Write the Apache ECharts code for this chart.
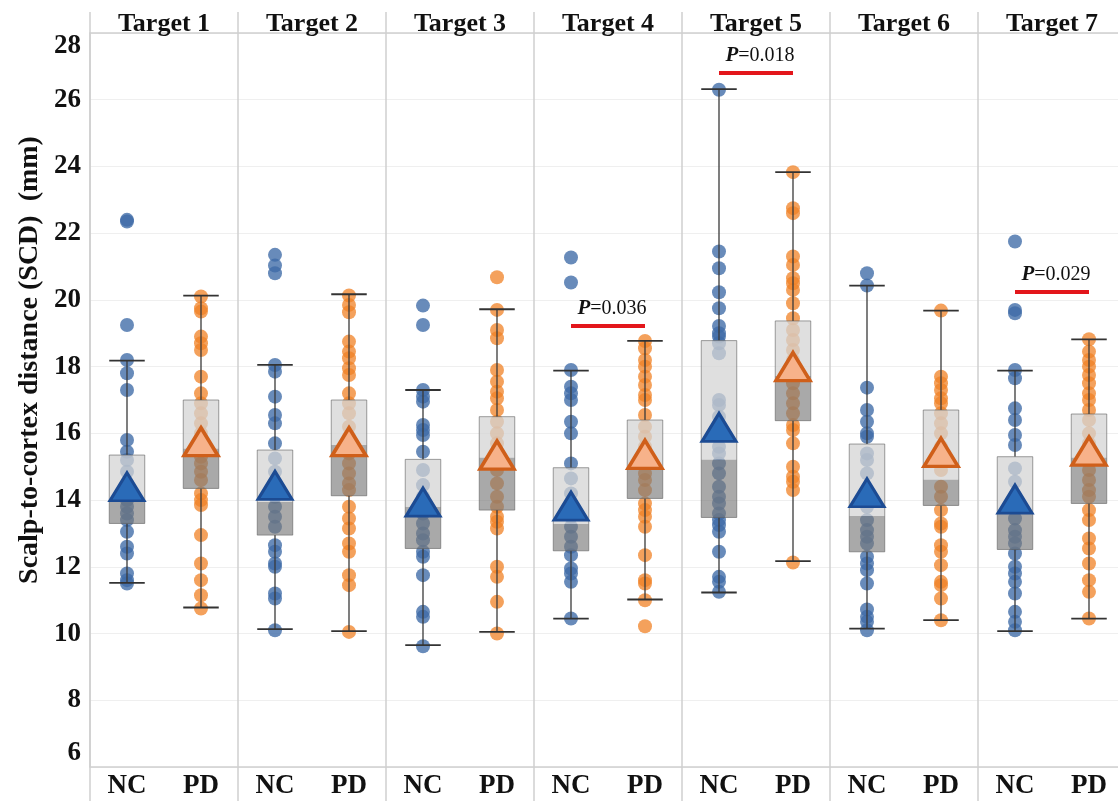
<!DOCTYPE html>
<html>
<head>
<meta charset="utf-8">
<script src="https://cdn.jsdelivr.net/npm/echarts@6/dist/echarts.min.js"></script>
<style>
  html, body { margin: 0; padding: 0; overflow: hidden; background: #fff; }
  #chart { width: 1126px; height: 801px; }
</style>
</head>
<body>
<div id="chart"></div>
<script>
// Scalp-to-cortex distance per stimulation target, NC vs PD
const targets = ['Target 1', 'Target 2', 'Target 3', 'Target 4', 'Target 5', 'Target 6', 'Target 7'];
const groups = ['NC', 'PD'];
const yMin = 6, yMax = 28, yStep = 2;
const yTitle = 'Scalp-to-cortex distance (SCD)  (mm)';

// individual subjects (mm)
const ncPoints = [
  [22.4, 22.35, 19.25, 18.2, 17.8, 17.3, 15.8, 15.45, 15.2, 14.85, 14.5, 14.2, 14.0, 13.8, 13.6, 13.4, 13.05, 12.6, 12.4, 11.8, 11.6, 11.5],
  [21.35, 21.03, 20.8, 18.05, 17.85, 17.1, 16.55, 16.3, 15.7, 15.25, 14.85, 14.4, 14.1, 13.8, 13.5, 13.2, 12.65, 12.45, 12.1, 12.0, 11.2, 11.05, 10.1],
  [19.83, 19.25, 17.3, 17.1, 16.95, 16.25, 16.1, 15.95, 15.45, 14.9, 14.45, 14.1, 13.8, 13.6, 13.3, 13.0, 12.8, 12.45, 12.3, 11.75, 10.65, 10.5, 9.62],
  [21.27, 20.52, 17.9, 17.4, 17.2, 17.0, 16.35, 16.0, 15.1, 14.65, 14.2, 13.9, 13.5, 13.2, 12.9, 12.6, 12.35, 11.95, 11.8, 11.55, 10.45],
  [26.3, 21.45, 20.95, 20.23, 19.75, 19.22, 19.0, 18.9, 18.7, 18.4, 17.0, 16.85, 16.5, 15.6, 15.4, 15.1, 14.8, 14.4, 14.1, 13.9, 13.6, 13.4, 13.25, 13.05, 12.45, 11.7, 11.55, 11.25],
  [20.8, 20.43, 17.37, 16.7, 16.35, 16.0, 15.9, 15.4, 15.2, 14.8, 14.2, 13.8, 13.4, 13.1, 12.9, 12.7, 12.3, 12.1, 11.9, 11.5, 10.72, 10.5, 10.35, 10.1],
  [21.75, 19.7, 19.6, 17.9, 17.65, 16.75, 16.4, 15.95, 15.65, 14.95, 14.55, 14.1, 13.45, 13.1, 12.9, 12.7, 12.4, 12.0, 11.8, 11.55, 11.2, 10.65, 10.35, 10.1]
];
const pdPoints = [
  [20.1, 19.75, 19.65, 18.9, 18.7, 18.5, 17.7, 17.2, 16.9, 16.6, 16.3, 16.0, 15.6, 15.3, 15.1, 14.85, 14.6, 14.2, 14.0, 13.85, 12.95, 12.1, 11.6, 11.15, 10.75],
  [20.13, 19.85, 19.63, 18.75, 18.45, 18.25, 17.95, 17.75, 17.2, 16.9, 16.6, 16.2, 15.9, 15.4, 15.1, 14.8, 14.5, 14.3, 13.8, 13.45, 13.15, 12.7, 12.45, 11.75, 11.45, 10.05],
  [20.68, 19.7, 19.1, 18.85, 17.9, 17.55, 17.25, 17.05, 16.7, 16.35, 16.0, 15.7, 15.4, 15.1, 14.9, 14.5, 14.1, 13.8, 13.5, 13.35, 13.15, 12.0, 11.7, 10.95, 10.0],
  [18.77, 18.55, 18.2, 18.0, 17.7, 17.45, 17.15, 17.0, 16.55, 16.2, 15.9, 15.6, 15.3, 14.8, 14.6, 14.3, 13.9, 13.7, 13.5, 13.2, 12.35, 11.6, 11.5, 11.0, 10.22],
  [23.83, 22.75, 22.6, 21.3, 21.05, 20.65, 20.5, 20.3, 19.9, 19.45, 19.1, 18.8, 18.5, 18.2, 17.5, 17.2, 16.9, 16.6, 16.25, 16.1, 15.7, 15.0, 14.7, 14.55, 14.3, 12.13],
  [19.68, 17.7, 17.5, 17.3, 17.05, 16.9, 16.6, 16.3, 16.0, 15.6, 15.2, 14.9, 14.4, 14.1, 13.7, 13.3, 13.2, 12.65, 12.45, 12.05, 11.55, 11.45, 11.05, 10.4],
  [18.82, 18.45, 18.2, 18.0, 17.75, 17.5, 17.2, 17.0, 16.7, 16.4, 16.0, 15.7, 15.3, 14.9, 14.6, 14.3, 14.1, 13.7, 13.4, 12.85, 12.55, 12.1, 11.6, 11.25, 10.45]
];

// box summaries: [lower whisker, Q1, median, Q3, upper whisker]
const ncBox = [
  [11.52, 13.3, 14.03, 15.35, 18.18],
  [10.13, 12.95, 13.95, 15.5, 18.05],
  [9.65, 12.55, 13.8, 15.22, 17.3],
  [10.45, 12.48, 13.28, 14.97, 17.88],
  [11.23, 13.48, 15.22, 18.78, 26.32],
  [10.15, 12.45, 13.52, 15.68, 20.43],
  [10.07, 12.52, 13.6, 15.3, 17.88]
];
const pdBox = [
  [10.78, 14.35, 15.55, 17.0, 20.13],
  [10.07, 14.13, 15.65, 17.0, 20.17],
  [10.05, 13.7, 15.28, 16.5, 19.72],
  [11.02, 14.05, 14.95, 16.4, 18.77],
  [12.17, 16.38, 17.72, 19.37, 23.83],
  [10.4, 13.84, 14.62, 16.7, 19.68],
  [10.45, 13.9, 15.28, 16.58, 18.82]
];
const ncMean = [14.4, 14.44, 13.94, 13.82, 16.18, 14.22, 14.03];
const pdMean = [15.75, 15.75, 15.35, 15.37, 18.0, 15.43, 15.47];

// significant NC vs PD differences
const sigTarget = [3, 4, 6];
const sigLevel = [19.22, 26.8, 20.24];
const sigP = ['0.036', '0.018', '0.029'];

const serif = '"Liberation Serif", "DejaVu Serif", serif';
const categories = [];
targets.forEach(() => groups.forEach(g => categories.push(g)));

const ncDots = [], pdDots = [];
ncPoints.forEach((arr, t) => arr.forEach(v => ncDots.push([2 * t, v])));
pdPoints.forEach((arr, t) => arr.forEach(v => pdDots.push([2 * t + 1, v])));

const boxData = [];
ncBox.forEach((b, t) => boxData.push([2 * t].concat(b)));
pdBox.forEach((b, t) => boxData.push([2 * t + 1].concat(b)));

// panel separators sit on the boundary before each NC column
const everyPanel = (index) => index % 2 === 0;

function renderBox(params, api) {
  const c = api.value(0);
  const lo = api.coord([c, api.value(1)]);
  const q1 = api.coord([c, api.value(2)]);
  const md = api.coord([c, api.value(3)]);
  const q3 = api.coord([c, api.value(4)]);
  const hi = api.coord([c, api.value(5)]);
  const w = api.size([1, 0])[0] * 0.48;
  const x = lo[0];
  const l = x - w / 2;
  const whisker = { stroke: '#3a3a3a', lineWidth: 1.3 };
  const cap = { stroke: '#333', lineWidth: 1.8 };
  return {
    type: 'group',
    children: [
      { type: 'line', shape: { x1: x, y1: hi[1], x2: x, y2: q3[1] }, style: whisker },
      { type: 'line', shape: { x1: x, y1: q1[1], x2: x, y2: lo[1] }, style: whisker },
      { type: 'rect', shape: { x: l, y: md[1], width: w, height: q1[1] - md[1] },
        style: { fill: 'rgba(120,120,120,0.64)' } },
      { type: 'rect', shape: { x: l, y: q3[1], width: w, height: md[1] - q3[1] },
        style: { fill: 'rgba(212,212,212,0.74)' } },
      { type: 'rect', shape: { x: l, y: q3[1], width: w, height: q1[1] - q3[1] },
        style: { fill: 'none', stroke: 'rgba(95,95,95,0.6)', lineWidth: 1 } },
      { type: 'line', shape: { x1: l, y1: hi[1], x2: l + w, y2: hi[1] }, style: cap },
      { type: 'line', shape: { x1: l, y1: lo[1], x2: l + w, y2: lo[1] }, style: cap }
    ]
  };
}

function renderSig(params, api) {
  const t = api.value(0);
  const yv = api.value(1);
  const a = api.coord([2 * t, yv]);
  const b = api.coord([2 * t + 1, yv]);
  return {
    type: 'group',
    children: [
      { type: 'line', shape: { x1: a[0], y1: a[1], x2: b[0], y2: b[1] },
        style: { stroke: '#e3161b', lineWidth: 4 } },
      { type: 'text', x: (a[0] + b[0]) / 2 + 4, y: a[1] - 7,
        style: {
          text: '{p|P}=' + sigP[params.dataIndex],
          align: 'center', verticalAlign: 'bottom',
          fontFamily: serif, fontSize: 20, fill: '#111',
          rich: { p: { fontFamily: serif, fontSize: 21, fontStyle: 'italic', fontWeight: 'bold', fill: '#111' } }
        } }
    ]
  };
}

const chart = echarts.init(document.getElementById('chart'), null, { renderer: 'canvas' });
chart.setOption({
  animation: false,
  backgroundColor: '#fff',
  grid: { left: 90, right: 0, top: 33, bottom: 34 },
  graphic: [{
    type: 'text', x: 30, y: 360, rotation: Math.PI / 2,
    style: {
      text: yTitle, align: 'center', verticalAlign: 'middle',
      fontFamily: serif, fontSize: 28, fontWeight: 'bold', fill: '#111'
    }
  }],
  xAxis: [{
    type: 'category', data: categories, position: 'bottom', boundaryGap: true,
    axisLine: { show: true, lineStyle: { color: '#cfcfcf', width: 1.5 } },
    axisTick: { show: true, interval: everyPanel, length: 34, lineStyle: { color: '#cfcfcf', width: 1.5 } },
    splitLine: { show: true, interval: everyPanel, lineStyle: { color: '#cfcfcf', width: 1.5 } },
    axisLabel: { interval: 0, margin: 6, fontFamily: serif, fontSize: 27, fontWeight: 'bold', color: '#111' }
  }, {
    type: 'category', data: targets, position: 'top', boundaryGap: true,
    axisLine: { show: true, lineStyle: { color: '#cfcfcf', width: 1.5 } },
    axisTick: { show: true, length: 21, lineStyle: { color: '#cfcfcf', width: 1.5 } },
    axisLabel: { interval: 0, margin: -4, fontFamily: serif, fontSize: 26, fontWeight: 'bold', color: '#111' }
  }],
  yAxis: {
    type: 'value', min: yMin, max: yMax, interval: yStep,
    axisLine: { show: true, lineStyle: { color: '#cfcfcf', width: 1.5 } },
    axisTick: { show: false },
    splitLine: { show: true, lineStyle: { color: '#efefef', width: 1 } },
    axisLabel: {
      margin: 9, fontFamily: serif, fontSize: 27, fontWeight: 'bold', color: '#111',
      verticalAlignMaxLabel: 'top', verticalAlignMinLabel: 'bottom'
    }
  },
  series: [
    { type: 'scatter', name: 'NC', data: ncDots, symbolSize: 14, z: 2,
      itemStyle: { color: '#3d6aa6', opacity: 0.78 } },
    { type: 'scatter', name: 'PD', data: pdDots, symbolSize: 14, z: 2,
      itemStyle: { color: '#f08126', opacity: 0.75 } },
    { type: 'custom', name: 'box', data: boxData, renderItem: renderBox, z: 3,
      encode: { x: 0, y: [1, 2, 3, 4, 5] } },
    { type: 'scatter', name: 'NC mean', data: ncMean.map((v, t) => [2 * t, v]), z: 4,
      symbol: 'triangle', symbolSize: [34, 28],
      itemStyle: { color: '#2a6bb8', borderColor: '#1c4b93', borderWidth: 3, opacity: 1 } },
    { type: 'scatter', name: 'PD mean', data: pdMean.map((v, t) => [2 * t + 1, v]), z: 4,
      symbol: 'triangle', symbolSize: [34, 28],
      itemStyle: { color: '#f7b28a', borderColor: '#cf5f1a', borderWidth: 3.5, opacity: 1 } },
    { type: 'custom', name: 'sig', data: sigTarget.map((t, i) => [t, sigLevel[i]]), renderItem: renderSig, z: 5,
      encode: { x: 0, y: 1 } }
  ]
});
</script>
</body>
</html>
